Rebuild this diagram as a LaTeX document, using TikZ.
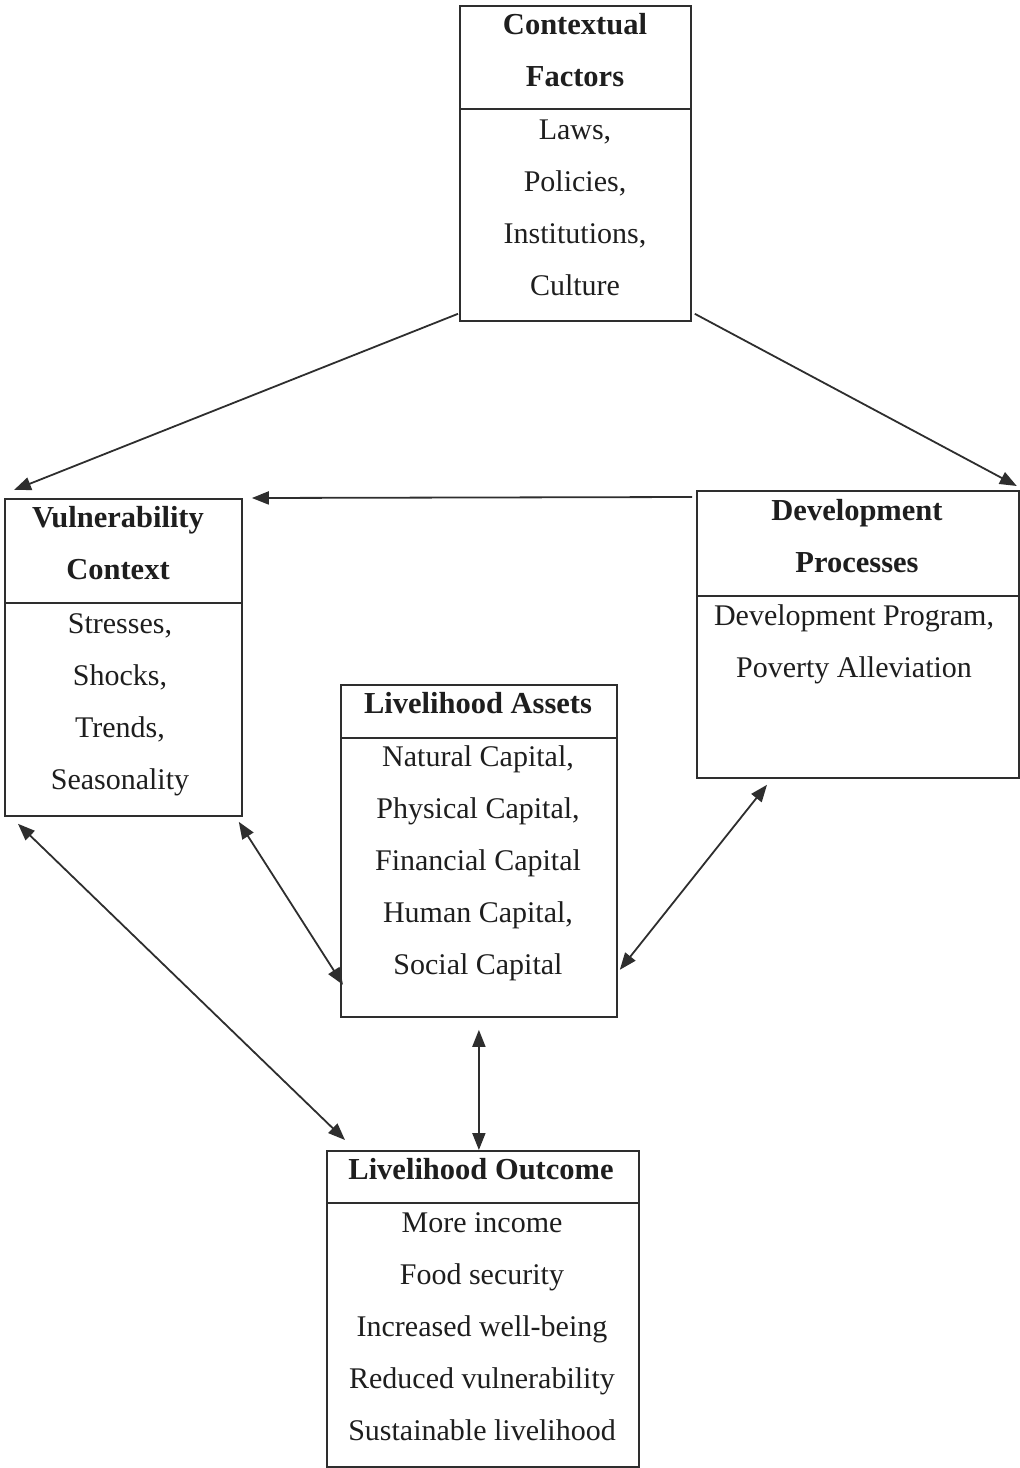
\documentclass[tikz,border=0pt]{standalone}
\usepackage{fontspec}
\setmainfont{Liberation Serif}
\usetikzlibrary{arrows.meta,calc}
\definecolor{ink}{HTML}{2E2E2E}
\definecolor{txt}{HTML}{1E1E1E}
\tikzset{
  box/.style={draw=ink, line width=1.8pt, anchor=north west, inner sep=0pt},
  divline/.style={draw=ink, line width=1.8pt},
  ttl/.style={anchor=north, inner sep=0pt, align=center, text=txt, font=\fontsize{30.5}{52}\selectfont\bfseries},
  bdy/.style={anchor=north, inner sep=0pt, align=center, text=txt, font=\fontsize{30}{52}\selectfont},
  tip/.style={Triangle[length=17pt,width=13pt]},
  conn/.style={draw=ink, line width=1.8pt, -{Triangle[length=17pt,width=13pt]}},
  dconn/.style={draw=ink, line width=1.8pt, {Triangle[length=17pt,width=13pt]}-{Triangle[length=17pt,width=13pt]}}
}
\begin{document}
\begin{tikzpicture}[x=1pt,y=-1pt]
\useasboundingbox (0,0) rectangle (1020,1468);
% boxes
\node[box, minimum width=231pt, minimum height=315pt] (cf) at (459,5) {};
\node[box, minimum width=237pt, minimum height=317pt] (vc) at (4,498) {};
\node[box, minimum width=322pt, minimum height=287pt] (dp) at (696,490) {};
\node[box, minimum width=276pt, minimum height=332pt] (la) at (340,684) {};
\node[box, minimum width=312pt, minimum height=316pt] (lo) at (326,1150) {};
% dividers
\draw[divline] (cf.west |- 0,109) -- (cf.east |- 0,109);
\draw[divline] (vc.west |- 0,603) -- (vc.east |- 0,603);
\draw[divline] (dp.west |- 0,596) -- (dp.east |- 0,596);
\draw[divline] (la.west |- 0,738) -- (la.east |- 0,738);
\draw[divline] (lo.west |- 0,1203) -- (lo.east |- 0,1203);
% texts
\node[ttl] (cft) at (575,{34-36.4}) {\strut Contextual\\Factors};
\node[bdy] (cfb) at (575,{139-36.4}) {\strut Laws,\\Policies,\\Institutions,\\Culture};
\node[ttl] (vct) at (118,{527-36.4}) {\strut Vulnerability\\Context};
\node[bdy] (vcb) at (120,{633-36.4}) {\strut Stresses,\\Shocks,\\Trends,\\Seasonality};
\node[ttl] (dpt) at (857,{520-36.4}) {\strut Development\\Processes};
\node[bdy] (dpb) at (854,{625-36.4}) {\strut Development Program,\\Poverty Alleviation};
\node[ttl] (lat) at (478,{713-36.4}) {\strut Livelihood Assets};
\node[bdy] (lab) at (478,{766-36.4}) {\strut Natural Capital,\\Physical Capital,\\Financial Capital\\Human Capital,\\Social Capital};
\node[ttl] (lot) at (481,{1179-36.4}) {\strut Livelihood Outcome};
\node[bdy] (lob) at (482,{1232-36.4}) {\strut More income\\Food security\\Increased well-being\\Reduced vulnerability\\Sustainable livelihood};
% connectors
\draw[conn] ($(cf.south west)+(-1,-8)$) -- ($(vc.north west)+(10,-8)$);
\draw[conn] ($(cf.south east)+(3,-8)$) -- ($(dp.north east)+(-3,-4)$);
\draw[conn] ($(dp.north west)+(-4,7)$) -- ($(vc.north east)+(9,0)$);
\draw[dconn] ($(vc.south west)+(14,7)$) -- ($(lo.north west)+(19,-10)$);
\draw[dconn] ($(vc.south east)+(-4,5)$) -- ($(la.south west)+(3,-33)$);
\draw[dconn] ($(dp.south west)+(71,6)$) -- ($(la.south east)+(2,-48)$);
\draw[dconn] ($(la.south)+(0,12)$) -- (la.south |- lo.north);
\end{tikzpicture}
\end{document}
